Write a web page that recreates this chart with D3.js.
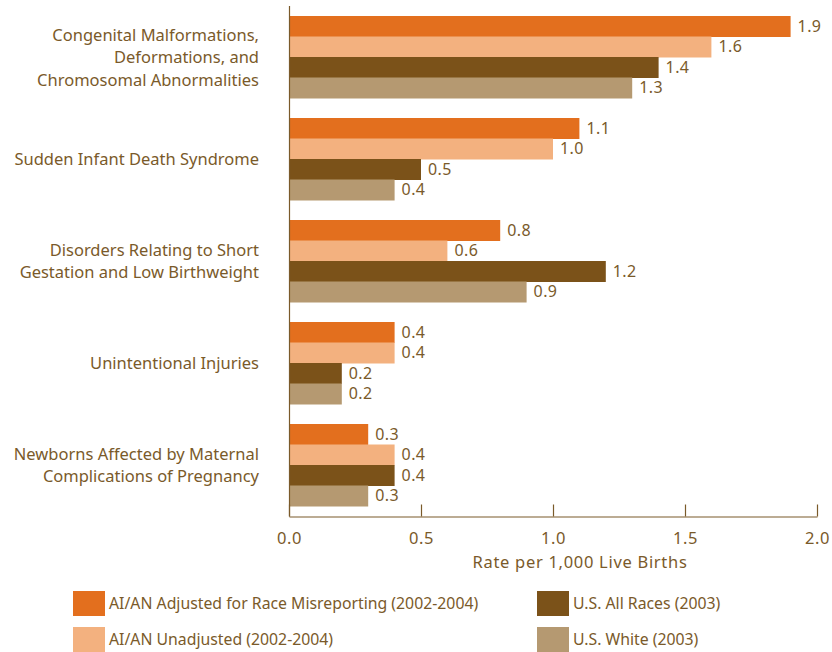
<!DOCTYPE html>
<html><head><meta charset="utf-8">
<script src="https://cdn.jsdelivr.net/npm/d3@7"></script>
<style>body{margin:0;background:#fff}text{font-family:"Noto Sans",sans-serif}</style>
</head><body><svg id="c" width="832" height="652"></svg>
<script>
const categories = [
  ["Congenital Malformations,","Deformations, and","Chromosomal Abnormalities"],
  ["Sudden Infant Death Syndrome"],
  ["Disorders Relating to Short","Gestation and Low Birthweight"],
  ["Unintentional Injuries"],
  ["Newborns Affected by Maternal","Complications of Pregnancy"]
];
const seriesNames = ["AI/AN Adjusted for Race Misreporting (2002-2004)","AI/AN Unadjusted (2002-2004)","U.S. All Races (2003)","U.S. White (2003)"];
const adjusted   = [1.9, 1.1, 0.8, 0.4, 0.3];
const unadjusted = [1.6, 1.0, 0.6, 0.4, 0.4];
const allRaces   = [1.4, 0.5, 1.2, 0.2, 0.4];
const white      = [1.3, 0.4, 0.9, 0.2, 0.3];
const xTicks = [0, 0.5, 1.0, 1.5, 2.0];
const colors = ["#E36F1E","#F3B17F","#7B5219","#B59971"];
const textColor = "#7A5A2A";

const series = [adjusted, unadjusted, allRaces, white];
const svg = d3.select("#c");
const x = d3.scaleLinear().domain([0,2]).range([289,817]);
const idx = categories.map((d,i)=>i);
const y0 = d3.scaleBand().domain(idx).range([6,516]).paddingInner(20/102).paddingOuter(10/102);
const y1 = d3.scaleBand().domain(d3.range(series.length)).range([0,y0.bandwidth()]);

// bars
series.forEach((vals,s)=>{
  const g = svg.append("g");
  g.selectAll("rect").data(vals).join("rect")
    .attr("x", x(0)).attr("y",(d,i)=>y0(i)+y1(s))
    .attr("width", d=>x(d)-x(0)).attr("height", y1.bandwidth()+0.5)
    .attr("fill", colors[s]);
  g.selectAll("text").data(vals).join("text")
    .attr("x", d=>x(d)+7).attr("y",(d,i)=>y0(i)+y1(s)+y1.bandwidth()/2+5.5)
    .attr("fill", textColor).attr("font-size", 16).attr("letter-spacing",0.4)
    .text(d=>d.toFixed(1));
});

// y axis line
svg.append("line").attr("x1",289.5).attr("x2",289.5).attr("y1",6).attr("y2",516.5)
  .attr("stroke",textColor).attr("stroke-width",1.2);

// x axis
const xa = svg.append("g").attr("transform","translate(0,516.5)")
  .call(d3.axisBottom(x).tickValues(xTicks).tickFormat(d3.format(".1f")).tickSizeInner(-12).tickSizeOuter(0).tickPadding(16));
xa.select(".domain").attr("stroke",textColor).attr("stroke-width",1.2);
xa.selectAll(".tick line").attr("stroke",textColor).attr("stroke-width",1.2);
xa.selectAll(".tick text").attr("fill",textColor).attr("font-size",16.5).attr("letter-spacing",0.5).attr("font-family","Noto Sans");
svg.append("text").attr("x",580).attr("y",568).attr("text-anchor","middle")
  .attr("fill",textColor).attr("font-size",16.5).attr("letter-spacing",0.7).text("Rate per 1,000 Live Births");

// category labels
categories.forEach((lines,i)=>{
  const cy = y0(i)+y0.bandwidth()/2;
  const lh = 22.5;
  const t = svg.append("text").attr("text-anchor","end").attr("fill",textColor).attr("font-size",16.5);
  lines.forEach((l,k)=>{
    t.append("tspan").attr("x",259).attr("y", cy + 6 + (k-(lines.length-1)/2)*lh).text(l);
  });
});

// legend
const legPos = [[73,591],[73,627],[537,591],[537,627]];
seriesNames.forEach((n,s)=>{
  const [lx,ly] = legPos[s];
  svg.append("rect").attr("x",lx).attr("y",ly).attr("width",32).attr("height",25).attr("fill",colors[s]);
  svg.append("text").attr("x",lx+36).attr("y",ly+18).attr("fill",textColor).attr("font-size",15.8).text(n);
});
</script></body></html>
